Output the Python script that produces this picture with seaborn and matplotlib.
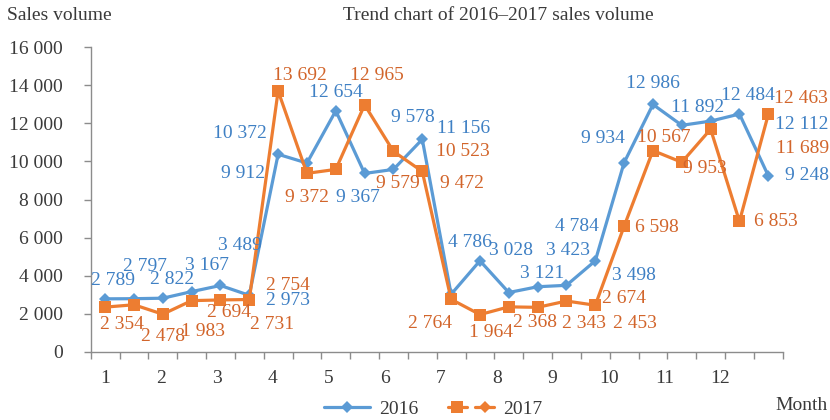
import numpy as np
import pandas as pd
import matplotlib
matplotlib.use("Agg")
import matplotlib.pyplot as plt
from matplotlib.lines import Line2D
from matplotlib.legend_handler import HandlerLine2D, HandlerTuple
import seaborn as sns

# Data: two points per month (first and second half), Jan..Dec
months = [str(m) for m in range(1, 13)]
sales_2016 = [2789, 2797, 2822, 3167, 3489, 2973, 10372, 9912, 12654, 9367, 9578, 11156,
              3028, 4786, 3121, 3423, 3498, 4784, 9934, 12986, 11892, 12112, 12484, 9248]
sales_2017 = [2354, 2478, 1983, 2694, 2731, 2754, 13692, 9372, 9579, 12965, 10523, 9472,
              2764, 1964, 2368, 2343, 2674, 2453, 6598, 10567, 9953, 11689, 6853, 12463]
y_ticks = list(range(0, 16001, 2000))

# label offsets (pixels, right / down)
off_2016 = [(8, -18), (11, -32), (9, -19), (15, -26), (19, -40), (39, 5),
            (-38, -21), (-64, 10), (0, -18), (-7, 24), (19, -52), (41, -11),
            (60, -44), (-10, -18), (33, -19), (30, -36), (67, -10), (-18, -34),
            (-21, -24), (0, -21), (16, -18), (91, 3), (8, -19), (39, 0)]
off_2017 = [(17, 17), (29, 32), (40, 17), (37, 12), (52, 25), (39, -14),
            (22, -15), (0, 24), (62, 14), (12, -29), (69, 0), (40, 12),
            (-21, 24), (11, 18), (26, 16), (46, 16), (58, -3), (40, 18),
            (33, 1), (11, -13), (23, 6), (92, 19), (36, 0), (33, -16)]

blue, orange = "#5B9BD5", "#ED7D31"
blue_txt, orange_txt = "#3F80C4", "#D2652B"
gray_txt = "#3a3a3a"
fs = 14

sns.set_theme(style="white")
plt.rcParams["font.family"] = ["Liberation Serif", "DejaVu Serif"]
plt.rcParams["font.size"] = fs

def fmt(v):
    return f"{v:,}".replace(",", " ")

n = len(sales_2016)
df = pd.DataFrame({
    "slot": list(range(n)) * 2,
    "sales": sales_2016 + sales_2017,
    "year": ["2016"] * n + ["2017"] * n,
})

fig = plt.figure(figsize=(8.3, 4.2), dpi=100)
ax = fig.add_axes([90.7 / 830, 1 - 352 / 420, 692 / 830, 305 / 420])

sns.lineplot(data=df, x="slot", y="sales", hue="year", style="year",
             palette={"2016": blue, "2017": orange},
             markers={"2016": "D", "2017": "s"}, dashes=False,
             linewidth=2.3, markeredgewidth=0, legend=False, ax=ax)
# marker sizes per series
for ln, ms in zip(ax.lines, [5.8, 8.2]):
    ln.set_markersize(ms)

for vals, offs, col in [(sales_2016, off_2016, blue_txt), (sales_2017, off_2017, orange_txt)]:
    for i, (v, (dx, dy)) in enumerate(zip(vals, offs)):
        ax.annotate(fmt(v), (i, v), xytext=(dx * 0.72, -dy * 0.72), textcoords="offset points",
                    ha="center", va="center", color=col, fontsize=fs)

ax.set_xlim(-0.5, n - 0.5)
ax.set_ylim(0, 16000)
ax.set_yticks(y_ticks)
ax.set_yticklabels([fmt(t) for t in y_ticks])
ax.set_xticks(np.arange(-0.5, n, 1.0), minor=True)
ax.set_xticks(np.arange(12) * 1.94)
ax.set_xticklabels(months)
ax.tick_params(axis="x", which="major", length=0, pad=13, labelcolor=gray_txt, labelsize=fs)
ax.tick_params(axis="x", which="minor", length=5, width=1, color="#8c8c8c", direction="out", bottom=True)
ax.tick_params(axis="y", length=5, width=1, color="#8c8c8c", direction="out", pad=15,
               labelcolor=gray_txt, labelsize=fs, left=True)
ax.set_xlabel("")
ax.set_ylabel("")
for s in ["top", "right"]:
    ax.spines[s].set_visible(False)
for s in ["left", "bottom"]:
    ax.spines[s].set_color("#8c8c8c")
    ax.spines[s].set_linewidth(1)
ax.grid(False)

fig.text(7 / 830, 1 - 15 / 420, "Sales volume", ha="left", va="center", color=gray_txt, fontsize=fs)
fig.text(498 / 830, 1 - 15 / 420, "Trend chart of 2016\u20132017 sales volume",
         ha="center", va="center", color=gray_txt, fontsize=fs)
fig.text(828 / 830, 1 - 406 / 420, "Month", ha="right", va="center", color=gray_txt, fontsize=fs)


class MarkAt(HandlerLine2D):
    def __init__(self, fracs, **kw):
        super().__init__(**kw)
        self.fracs = fracs

    def get_xdata(self, legend, xdescent, ydescent, width, height, fontsize):
        xdata = np.array([-xdescent, -xdescent + width])
        return xdata, -xdescent + width * np.array(self.fracs)


h16 = Line2D([], [], color=blue, lw=2.3, marker="D", ms=5.8, mew=0)
h17s = Line2D([], [], color=orange, lw=2.3, marker="s", ms=8.2, mew=0)
h17d = Line2D([], [], color=orange, lw=2.3, marker="D", ms=5.8, mew=0)
fig.legend([h16, (h17s, h17d)], ["2016", "2017"], loc="center", bbox_to_anchor=(433 / 830, 1 - 409 / 420),
           ncol=2, frameon=False, handlelength=2.4, handletextpad=0.45, columnspacing=1.5,
           labelcolor=gray_txt, fontsize=fs,
           handler_map={h16: MarkAt([0.51, 0.91]), tuple: HandlerTuple(ndivide=None),
                        h17s: MarkAt([0.48]), h17d: MarkAt([0.89])})

fig.savefig("out.png", dpi=100)
